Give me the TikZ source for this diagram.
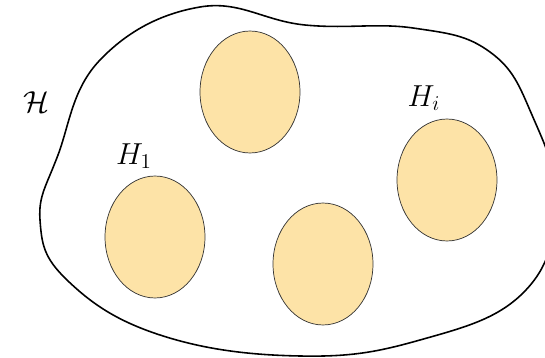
\documentclass[tikz,border=0pt]{standalone}
\usepackage{amsmath, amssymb}
\usepackage{tikz}
\usetikzlibrary{shapes.geometric,positioning}

\definecolor{ballfill}{HTML}{FDE3A7}

\begin{document}
\begin{tikzpicture}[
    x=0.02cm, y=-0.02cm,
    font=\LARGE,
    ball/.style={ellipse, draw=black!80, line width=0.4pt, fill=ballfill, inner sep=0pt, minimum width=2cm, minimum height=2.44cm},
    region/.style={line width=0.9pt}
]
\useasboundingbox (0,0) rectangle (545,358);
\clip (0,0) rectangle (545,358);

% the space H
\draw[region] plot[smooth cycle, tension=0.7] coordinates {
    (200,7) (305,25) (413,28) (490,52) (532,115) (556,205) (523,293)
    (420,340) (300,356) (160,335) (67,280) (40,220) (58,155) (100,60)};

% the subsets
\node[ball] (h2) at (250,92) {};
\node[ball] (h1) at (155,237) {};
\node[ball] (h3) at (323,264) {};
\node[ball] (hi) at (447,180) {};

\node (space) at (36,102) {$\mathcal{H}$};
\node (lab1) at (134,156) {$H_1$};
\node (labi) at (424,98) {$H_i$};
\end{tikzpicture}
\end{document}
